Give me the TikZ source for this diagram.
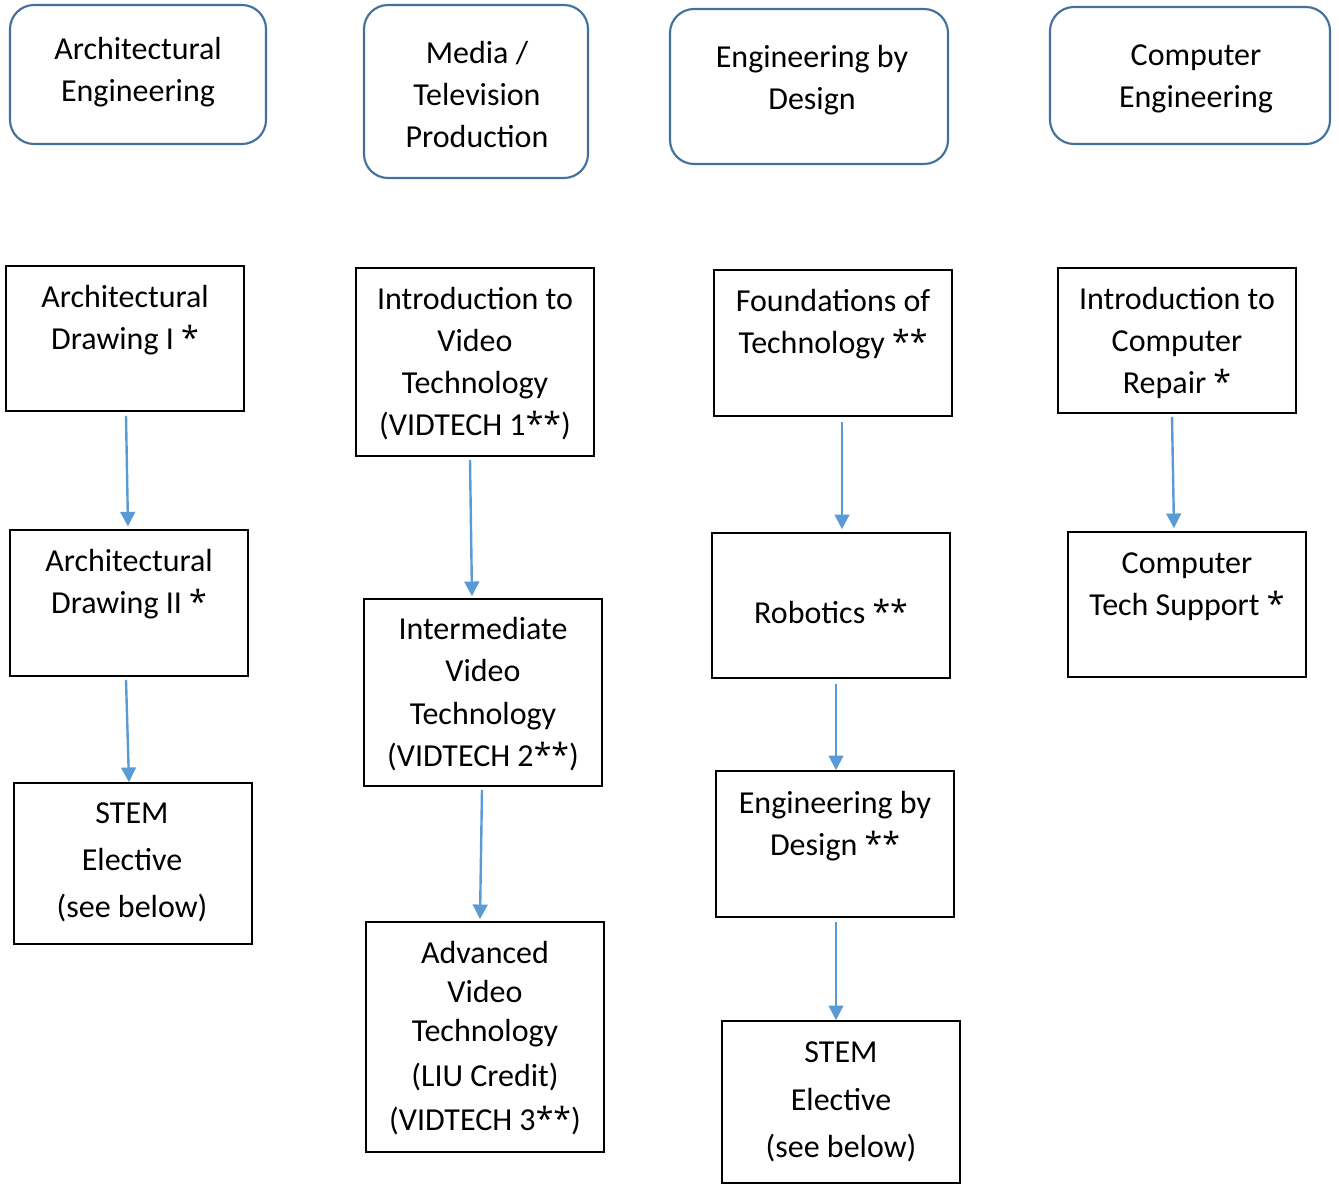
\documentclass[tikz,border=0pt]{standalone}
\usepackage{fontspec}
\setmainfont{Carlito}
\newfontfamily\astfont{Open Sans}
\usetikzlibrary{arrows.meta}
\definecolor{rbord}{RGB}{65,113,156}
\definecolor{arrc}{RGB}{91,155,213}
\newcommand\st{{\astfont *}}
\tikzset{
  rbox/.style={draw=rbord, line width=1.6pt, rounded corners=18pt, inner sep=0pt},
  sbox/.style={draw=black, line width=1.2pt, inner sep=0pt},
  txt/.style={anchor=base, inner sep=0pt, font=\fontsize{24pt}{30pt}\selectfont},
  arr/.style={draw=arrc, line width=1.8pt, -{Triangle[width=11pt,length=11pt]}}
}
% box: name, x1, y1, x2, y2 (pixel coordinates)
\newcommand\mkbox[6]{\node[#1, minimum width={(#5-#3)*0.75pt}, minimum height={(#6-#4)*0.75pt}] (#2) at ({(#3+#5)/2},{(#4+#6)/2}) {};}
\newcommand\tline[4]{\node[txt] (#1) at (#2,#3+10.5) {#4};}
\begin{document}
\begin{tikzpicture}[x=0.75pt,y=-0.75pt]
\useasboundingbox (0,0) rectangle (1339,1184);
% top rounded boxes
\mkbox{rbox}{T1}{10}{5}{266}{144}
\tline{T1a}{138}{49}{Architectural}
\tline{T1b}{138}{91}{Engineering}
\mkbox{rbox}{T2}{364}{5}{588}{178}
\tline{T2a}{477}{53}{Media /}
\tline{T2b}{477}{95}{Television}
\tline{T2c}{477}{137}{Production}
\mkbox{rbox}{T3}{670}{9}{948}{164}
\tline{T3a}{812}{57}{Engineering by}
\tline{T3b}{812}{99}{Design}
\mkbox{rbox}{T4}{1050}{7}{1330}{144}
\tline{T4a}{1196}{55}{Computer}
\tline{T4b}{1196}{97}{Engineering}
% column 1
\mkbox{sbox}{A1}{6}{266}{244}{411}
\tline{A1a}{125}{297}{Architectural}
\tline{A1b}{125}{339}{Drawing I \st}
\mkbox{sbox}{A2}{10}{530}{248}{676}
\tline{A2a}{129}{561}{Architectural}
\tline{A2b}{129}{603}{Drawing II \st}
\mkbox{sbox}{A3}{14}{783}{252}{944}
\tline{A3a}{132}{813}{STEM}
\tline{A3b}{132}{860}{Elective}
\tline{A3c}{132}{907}{(see below)}
% column 2
\mkbox{sbox}{B1}{356}{268}{594}{456}
\tline{B1a}{475}{299}{Introduction to}
\tline{B1b}{475}{341}{Video}
\tline{B1c}{475}{383}{Technology}
\tline{B1d}{475}{425}{(VIDTECH 1\st\st)}
\mkbox{sbox}{B2}{364}{599}{602}{786}
\tline{B2a}{483}{629}{Intermediate}
\tline{B2b}{483}{671}{Video}
\tline{B2c}{483}{714}{Technology}
\tline{B2d}{483}{756}{(VIDTECH 2\st\st)}
\mkbox{sbox}{B3}{366}{922}{604}{1152}
\tline{B3a}{485}{953}{Advanced}
\tline{B3b}{485}{992}{Video}
\tline{B3c}{485}{1031}{Technology}
\tline{B3d}{485}{1076}{(LIU Credit)}
\tline{B3e}{485}{1120}{(VIDTECH 3\st\st)}
% column 3
\mkbox{sbox}{C1}{714}{270}{952}{416}
\tline{C1a}{833}{301}{Foundations of}
\tline{C1b}{833}{343}{Technology \st\st}
\mkbox{sbox}{C2}{712}{533}{950}{678}
\tline{C2a}{831}{613}{Robotics \st\st}
\mkbox{sbox}{C3}{716}{771}{954}{917}
\tline{C3a}{835}{803}{Engineering by}
\tline{C3b}{835}{845}{Design \st\st}
\mkbox{sbox}{C4}{722}{1021}{960}{1183}
\tline{C4a}{841}{1052}{STEM}
\tline{C4b}{841}{1100}{Elective}
\tline{C4c}{841}{1147}{(see below)}
% column 4
\mkbox{sbox}{D1}{1058}{268}{1296}{413}
\tline{D1a}{1177}{299}{Introduction to}
\tline{D1b}{1177}{341}{Computer}
\tline{D1c}{1177}{383}{Repair \st}
\mkbox{sbox}{D2}{1068}{532}{1306}{677}
\tline{D2a}{1187}{563}{Computer}
\tline{D2b}{1187}{605}{Tech Support \st}
% arrows
\draw[arr] ([xshift=0.75pt,yshift=-3pt]A1.south) -- ([xshift=-0.75pt,yshift=2pt]A2.north);
\draw[arr] ([xshift=-2.25pt,yshift=-2.25pt]A2.south) -- ([xshift=-3pt]A3.north);
\draw[arr] ([xshift=-3.75pt,yshift=-2.25pt]B1.south) -- ([xshift=-8.25pt,yshift=1.5pt]B2.north);
\draw[arr] ([xshift=-0.75pt,yshift=-2.25pt]B2.south) -- ([xshift=-3.75pt,yshift=1.5pt]B3.north);
\draw[arr] ([xshift=6.75pt,yshift=-3.75pt]C1.south) -- ([xshift=8.25pt,yshift=2.25pt]C2.north);
\draw[arr] ([xshift=3.75pt,yshift=-3.75pt]C2.south) -- ([xshift=0.75pt]C3.north);
\draw[arr] ([xshift=0.75pt,yshift=-3pt]C3.south) -- ([xshift=-3.75pt]C4.north);
\draw[arr] ([xshift=-3.75pt,yshift=-2.25pt]D1.south) -- ([xshift=-9.75pt,yshift=2.25pt]D2.north);
\end{tikzpicture}
\end{document}
